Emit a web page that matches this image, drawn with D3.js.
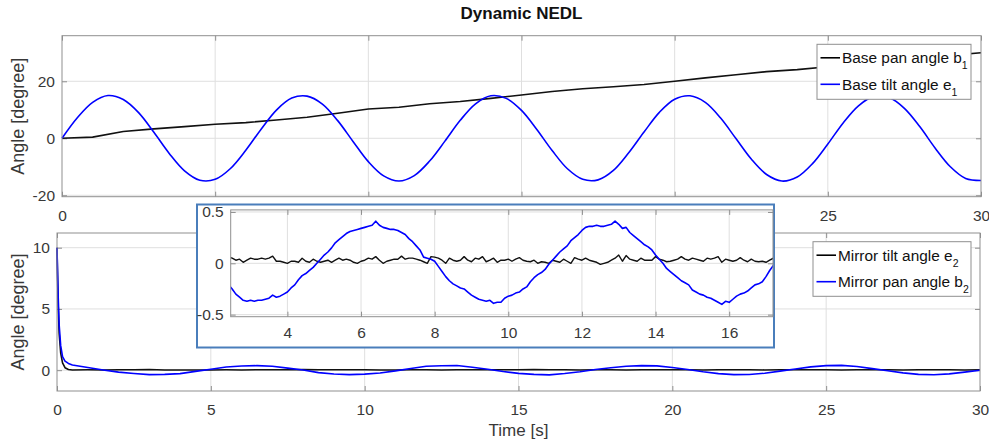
<!DOCTYPE html>
<html>
<head>
<meta charset="utf-8">
<script src="https://cdn.jsdelivr.net/npm/d3@7"></script>
<style>
  body { margin: 0; background: #fff; }
  text { font-family: "Liberation Sans", Arial, sans-serif; }
</style>
</head>
<body>
<svg id="chart"></svg>
<script>
let width = 989;
let height = 439;

// top panel: base angles (1 s and 0.5 s samples)
let baseTime = d3.range(0, 31, 1);
let basePan = [0, 0.4, 2.4, 3.3, 4.1, 4.9, 5.5, 6.4, 7.4, 8.8, 10.3, 10.9, 12.1, 12.9, 14.0, 15.2,
  16.4, 17.4, 18.1, 18.9, 20.0, 21.2, 22.3, 23.4, 24.1, 25.1, 26.1, 27.1, 28.1, 29.1, 30.0];
let tiltTime = d3.range(0, 61).map(i => i / 2);
let baseTilt = [
  0, 7.2, 12.6, 15.0, 13.6, 9.0, 2.1, -5.3, -11.4, -14.7,
  -14.4, -10.6, -4.2, 3.2, 9.9, 14.1, 14.8, 12.0, 6.2, -1.1,
  -8.2, -13.2, -15.0, -13.1, -8.0, -1.0, 6.3, 12.1, 14.9, 14.0,
  9.8, 3.1, -4.3, -10.7, -14.4, -14.6, -11.3, -5.1, 2.2, 9.1,
  13.7, 14.9, 12.6, 7.1, -0.1, -7.3, -12.7, -15.0, -13.6, -8.9,
  -2.0, 5.4, 11.4, 14.7, 14.3, 10.5, 4.1, -3.4, -10.0, -14.1,
  -14.8];

// bottom panel: mirror angles, start-up decay then 0.5 s samples
let decayTime = [0, 0.02, 0.04, 0.07, 0.12, 0.18, 0.26, 0.37];
let mirrorPanDecay = [10, 7.8, 5.9, 3.7, 2.0, 1.1, 0.74, 0.55];
let mirrorTiltDecay = [10, 7.3, 5.2, 3.0, 1.4, 0.6, 0.2, 0.05];
let mirrorTime = d3.range(1, 61).map(i => i / 2);
let mirrorPan = [
  0.42, 0.22, 0.02, -0.16, -0.27, -0.36, -0.34, -0.28, -0.10, 0.08,
  0.26, 0.34, 0.37, 0.32, 0.17, 0.02, -0.20, -0.31, -0.36, -0.32,
  -0.23, -0.06, 0.14, 0.32, 0.36, 0.38, 0.24, 0.08, -0.11, -0.26,
  -0.34, -0.38, -0.27, -0.13, 0.05, 0.20, 0.32, 0.37, 0.35, 0.22,
  0.05, -0.13, -0.28, -0.36, -0.35, -0.25, -0.08, 0.10, 0.27, 0.37,
  0.39, 0.30, 0.13, -0.05, -0.22, -0.34, -0.37, -0.30, -0.16, 0.00];
let mirrorTilt = [
  0.02, 0.03, 0.02, 0.04, 0.03, 0.05, 0.02, 0.01, 0.02, 0.02,
  0.03, 0.02, 0.04, 0.04, 0.04, 0.05, 0.03, 0.04, 0.03, 0.04,
  0.02, 0.01, 0.03, 0.03, 0.02, 0.04, 0.03, 0.04, 0.03, 0.04,
  0.05, 0.03, 0.03, 0.02, 0.04, 0.03, 0.02, 0.04, 0.03, 0.03,
  0.04, 0.02, 0.03, 0.04, 0.03, 0.02, 0.03, 0.04, 0.03, 0.03,
  0.02, 0.03, 0.04, 0.03, 0.02, 0.03, 0.04, 0.03, 0.02, 0.03];

// inset: zoom on the bottom panel, 0.1 s samples from 2.4 s to 17.3 s
let insetTime = d3.range(24, 174).map(i => i / 10);
let insetPan = [
  -0.21, -0.25, -0.30, -0.33, -0.36, -0.37,
  -0.36, -0.37, -0.36, -0.36, -0.35, -0.34, -0.31, -0.33, -0.32, -0.30,
  -0.28, -0.24, -0.21, -0.16, -0.12, -0.10, -0.07, -0.04, 0.00, 0.04,
  0.08, 0.11, 0.15, 0.20, 0.23, 0.26, 0.29, 0.31, 0.32, 0.33,
  0.34, 0.35, 0.36, 0.37, 0.41, 0.37, 0.35, 0.34, 0.33, 0.33,
  0.32, 0.30, 0.28, 0.24, 0.21, 0.17, 0.13, 0.06, 0.05, 0.04,
  0.02, -0.03, -0.08, -0.13, -0.17, -0.20, -0.22, -0.24, -0.25, -0.28,
  -0.31, -0.33, -0.35, -0.36, -0.37, -0.36, -0.39, -0.38, -0.38, -0.34,
  -0.32, -0.31, -0.29, -0.28, -0.25, -0.23, -0.18, -0.14, -0.11, -0.09,
  -0.06, -0.01, 0.03, 0.07, 0.11, 0.14, 0.17, 0.22, 0.25, 0.28,
  0.32, 0.35, 0.36, 0.36, 0.37, 0.36, 0.36, 0.37, 0.38, 0.41,
  0.38, 0.34, 0.35, 0.30, 0.27, 0.24, 0.21, 0.18, 0.16, 0.13,
  0.08, 0.04, 0.00, -0.05, -0.08, -0.11, -0.14, -0.17, -0.19, -0.21,
  -0.26, -0.28, -0.30, -0.31, -0.33, -0.34, -0.36, -0.38, -0.40, -0.37,
  -0.38, -0.35, -0.32, -0.30, -0.29, -0.27, -0.24, -0.21, -0.20, -0.18,
  -0.13, -0.07, -0.02, 0.02];
let insetTilt = [
  0.06, 0.05, 0.03, 0.04, 0.01, 0.03,
  0.05, 0.04, 0.04, 0.05, 0.04, 0.05, 0.07, 0.02, 0.02, 0.01,
  0.00, 0.02, 0.02, 0.01, 0.05, 0.02, 0.01, 0.04, 0.02, 0.01,
  0.02, 0.03, 0.01, 0.03, 0.05, 0.03, 0.04, 0.03, 0.01, 0.00,
  0.02, 0.03, 0.05, 0.04, 0.065, 0.03, 0.00, 0.02, 0.03, 0.04,
  0.04, 0.07, 0.04, 0.05, 0.05, 0.04, 0.03, 0.015, 0.00, 0.065,
  0.06, 0.05, 0.03, 0.00, 0.05, 0.03, 0.02, 0.03, 0.065, 0.03,
  0.015, 0.05, 0.04, 0.065, 0.015, 0.03, 0.05, 0.01, 0.03, 0.03,
  0.04, 0.02, 0.04, 0.055, 0.03, 0.02, 0.015, 0.03, 0.00, 0.015,
  0.01, 0.00, 0.03, 0.02, 0.01, 0.04, 0.02, 0.00, 0.055, 0.04,
  0.03, 0.05, 0.03, 0.02, 0.01, -0.01, 0.00, 0.01, 0.03, 0.05,
  0.08, 0.02, 0.075, 0.04, 0.03, 0.02, 0.05, 0.03, 0.03, 0.03,
  0.065, 0.04, 0.03, 0.015, 0.02, 0.03, 0.04, 0.065, 0.04, 0.03,
  0.05, 0.04, 0.03, 0.02, 0.05, 0.04, 0.05, 0.065, 0.01, 0.04,
  0.03, 0.02, 0.03, 0.055, 0.03, 0.015, 0.04, 0.02, 0.015, 0.02,
  0.01, 0.03, 0.05, 0.04];

let timeTicks = [0, 5, 10, 15, 20, 25, 30];
let topTicks = [-20, 0, 20];
let bottomTicks = [0, 5, 10];
let insetTimeTicks = [4, 6, 8, 10, 12, 14, 16];
let insetTicks = [-0.5, 0, 0.5];

let topLegend = [{label: 'Base pan angle b', sub: '1', color: '#000'},
                 {label: 'Base tilt angle e', sub: '1', color: '#0000ff'}];
let bottomLegend = [{label: 'Mirror tilt angle e', sub: '2', color: '#000'},
                    {label: 'Mirror pan angle b', sub: '2', color: '#0000ff'}];

let gridColor = '#dfdfdf';
let boxColor = '#8f8f8f';
let labelColor = '#383838';
let tickFont = 15.5;

let svg = d3.select('#chart')
  .attr('width', width)
  .attr('height', height);

let xTop = d3.scaleLinear().domain([0, 30]).range([62, 981]);
let yTop = d3.scaleLinear().domain([-20.5, 36]).range([196.7, 35.7]);
let xBot = d3.scaleLinear().domain([0, 30]).range([57, 980]);
let yBot = d3.scaleLinear().domain([-1.7, 11.2]).range([391, 233]);
let xIn = d3.scaleLinear().domain([2.46, 17.19]).range([230.7, 773]);
let yIn = d3.scaleLinear().domain([-0.52, 0.52]).range([316.7, 209.9]);

// frame of the inset, in pixels
let insetFrame = {x: 197, y: 204.5, w: 577, h: 143};

svg.append('defs').append('clipPath').attr('id', 'insetClip')
  .append('rect')
    .attr('x', xIn.range()[0]).attr('y', yIn.range()[1])
    .attr('width', xIn.range()[1] - xIn.range()[0])
    .attr('height', yIn.range()[0] - yIn.range()[1]);

// top panel
let topGrp = svg.append('g');
drawPanel(topGrp, xTop, yTop, timeTicks, topTicks, 13);
// labels hidden under the inset are not shown
topGrp.select('.xaxis').selectAll('.tick text')
  .filter(d => xTop(d) > insetFrame.x && xTop(d) < insetFrame.x + insetFrame.w)
  .remove();
drawLine(topGrp, xTop, yTop, baseTime, basePan, '#111');
drawLine(topGrp, xTop, yTop, tiltTime, baseTilt, '#0000ff', d3.curveCatmullRom);
drawBox(topGrp, xTop, yTop);

// bottom panel
let botGrp = svg.append('g');
drawPanel(botGrp, xBot, yBot, timeTicks, bottomTicks, 13);
drawLine(botGrp, xBot, yBot, decayTime.concat(mirrorTime), mirrorTiltDecay.concat(mirrorTilt), '#111');
drawLine(botGrp, xBot, yBot, decayTime.concat(mirrorTime), mirrorPanDecay.concat(mirrorPan), '#0000ff');
drawBox(botGrp, xBot, yBot);

// inset panel with blue frame
let inGrp = svg.append('g');
inGrp.append('rect')
  .attr('x', insetFrame.x).attr('y', insetFrame.y)
  .attr('width', insetFrame.w).attr('height', insetFrame.h)
  .attr('fill', 'white')
  .attr('stroke', '#4a7ebb')
  .attr('stroke-width', 2);
drawPanel(inGrp, xIn, yIn, insetTimeTicks, insetTicks, 10.5);
let inLines = inGrp.append('g').attr('clip-path', 'url(#insetClip)');
drawLine(inLines, xIn, yIn, insetTime, insetTilt, '#111', d3.curveLinear, 1.4);
drawLine(inLines, xIn, yIn, insetTime, insetPan, '#0000ff', d3.curveLinear, 1.6);
drawBox(inGrp, xIn, yIn);

drawLegend(svg, 817, 44.3, 154, 55, topLegend);
drawLegend(svg, 813, 241.7, 158, 54.6, bottomLegend);

// titles
svg.append('text')
  .attr('x', (xTop.range()[0] + xTop.range()[1]) / 2)
  .attr('y', 19)
  .attr('text-anchor', 'middle')
  .attr('font-size', 17)
  .attr('font-weight', 'bold')
  .attr('fill', '#111')
  .text('Dynamic NEDL');

svg.append('text')
  .attr('transform', `translate(24,${(yTop.range()[0] + yTop.range()[1]) / 2}) rotate(-90)`)
  .attr('text-anchor', 'middle')
  .attr('font-size', 18)
  .attr('fill', labelColor)
  .text('Angle [degree]');

svg.append('text')
  .attr('transform', `translate(24,${(yBot.range()[0] + yBot.range()[1]) / 2}) rotate(-90)`)
  .attr('text-anchor', 'middle')
  .attr('font-size', 18)
  .attr('fill', labelColor)
  .text('Angle [degree]');

svg.append('text')
  .attr('x', (xBot.range()[0] + xBot.range()[1]) / 2)
  .attr('y', 436)
  .attr('text-anchor', 'middle')
  .attr('font-size', 17)
  .attr('fill', labelColor)
  .text('Time [s]');

function drawPanel(grp, x, y, xticks, yticks, xpad) {
  let [x0, x1] = x.range();
  let [y0, y1] = y.range();
  grp.append('rect')
    .attr('x', x0).attr('y', y1)
    .attr('width', x1 - x0).attr('height', y0 - y1)
    .attr('fill', 'white');
  grp.append('g').selectAll('line')
    .data(xticks.filter(d => x(d) > x0 + 1 && x(d) < x1 - 1))
    .join('line')
      .attr('x1', d => x(d)).attr('x2', d => x(d))
      .attr('y1', y0).attr('y2', y1)
      .attr('stroke', gridColor);
  grp.append('g').selectAll('line')
    .data(yticks.filter(d => y(d) < y0 - 1 && y(d) > y1 + 1))
    .join('line')
      .attr('x1', x0).attr('x2', x1)
      .attr('y1', d => y(d)).attr('y2', d => y(d))
      .attr('stroke', gridColor);
  let fmt = d => String(d);
  let axes = [
    grp.append('g').attr('class', 'xaxis').attr('transform', `translate(0,${y0})`)
      .call(d3.axisBottom(x).tickValues(xticks).tickSize(-5).tickPadding(xpad).tickFormat(fmt)),
    grp.append('g').attr('transform', `translate(${x0},0)`)
      .call(d3.axisLeft(y).tickValues(yticks).tickSize(-5).tickPadding(7).tickFormat(fmt)),
    grp.append('g').attr('transform', `translate(0,${y1})`)
      .call(d3.axisTop(x).tickValues(xticks).tickSize(-5).tickFormat('')),
    grp.append('g').attr('transform', `translate(${x1},0)`)
      .call(d3.axisRight(y).tickValues(yticks).tickSize(-5).tickFormat(''))
  ];
  axes.forEach(a => {
    a.select('.domain').remove();
    a.selectAll('line').attr('stroke', boxColor);
    a.selectAll('text')
      .attr('fill', labelColor)
      .attr('font-size', tickFont)
      .attr('font-family', '"Liberation Sans", Arial, sans-serif');
  });
}

function drawBox(grp, x, y) {
  let [x0, x1] = x.range();
  let [y0, y1] = y.range();
  grp.append('rect')
    .attr('x', x0).attr('y', y1)
    .attr('width', x1 - x0).attr('height', y0 - y1)
    .attr('fill', 'none')
    .attr('stroke', boxColor);
}

function drawLine(grp, x, y, times, vals, color, curve = d3.curveLinear, w = 1.6) {
  let line = d3.line()
    .x((d, i) => x(times[i]))
    .y(d => y(d))
    .curve(curve);
  grp.append('path')
    .attr('d', line(vals))
    .attr('fill', 'none')
    .attr('stroke', color)
    .attr('stroke-width', w)
    .attr('stroke-linejoin', 'round');
}

function drawLegend(grp, x, y, w, h, items) {
  let lg = grp.append('g').attr('transform', `translate(${x},${y})`);
  lg.append('rect')
    .attr('width', w).attr('height', h)
    .attr('fill', 'white')
    .attr('stroke', boxColor);
  let rows = lg.selectAll('g.row')
    .data(items)
    .join('g')
      .attr('class', 'row')
      .attr('transform', (d, i) => `translate(0,${13.5 + i * 26.5})`);
  rows.append('line')
    .attr('x1', 3.5).attr('x2', 23)
    .attr('stroke', d => d.color)
    .attr('stroke-width', 1.6);
  let txt = rows.append('text')
    .attr('x', 25)
    .attr('y', 5.5)
    .attr('font-size', 15.4)
    .attr('fill', '#111');
  txt.append('tspan').text(d => d.label);
  txt.append('tspan')
    .attr('dy', 6)
    .attr('font-size', 10.5)
    .text(d => d.sub);
}
</script>
</body>
</html>
